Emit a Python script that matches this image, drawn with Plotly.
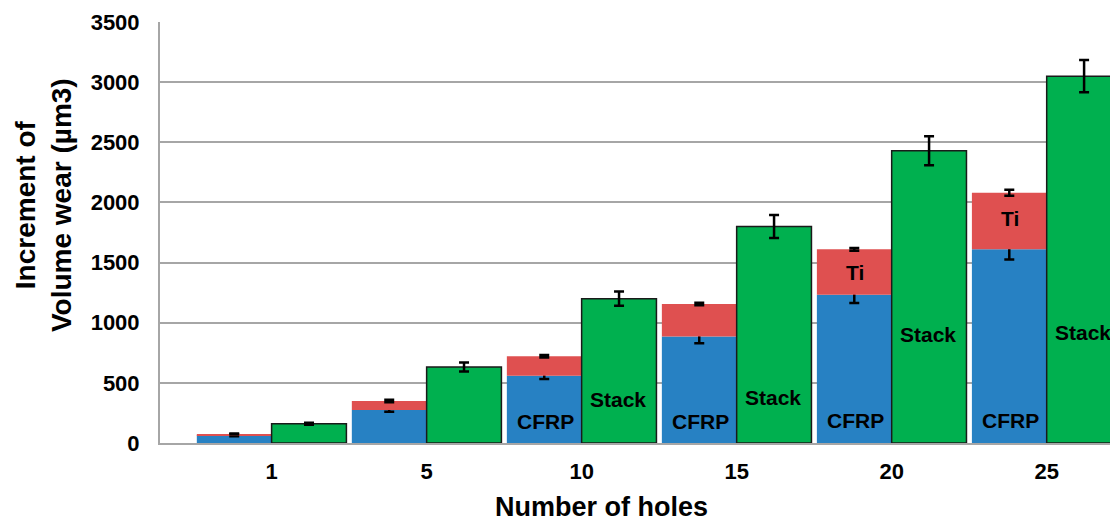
import plotly.graph_objects as go

holes = ["1", "5", "10", "15", "20", "25"]
cfrp = [65, 274, 560, 885, 1233, 1610]
cfrp_err = [8, 15, 27, 55, 70, 85]
ti = [10, 75, 161, 270, 377, 471]
ti_err = [5, 10, 10, 10, 12, 25]
stack = [160, 632, 1200, 1800, 2430, 3050]
stack_err = [8, 37, 60, 95, 120, 135]

# label spots inside the bars (value axis)
cfrp_lbl_y = [None, None, 180, 180, 190, 190]
ti_lbl_y = [None, None, None, None, 1420, 1870]
stack_lbl_y = [None, None, 360, 380, 900, 915]

blue = "#2781C3"
red = "#DF5050"
green = "#00B04F"
font = "Liberation Sans, Arial, sans-serif"

fig = go.Figure()
fig.add_trace(go.Bar(x=holes, y=cfrp, name="CFRP", offsetgroup="a",
                     marker=dict(color=blue, line=dict(width=0)),
                     error_y=dict(type="data", array=cfrp_err, color="black",
                                  thickness=2.5, width=5)))
fig.add_trace(go.Bar(x=holes, y=ti, base=cfrp, name="Ti", offsetgroup="a",
                     marker=dict(color=red, line=dict(width=0)),
                     error_y=dict(type="data", array=ti_err, color="black",
                                  thickness=2.5, width=5)))
fig.add_trace(go.Bar(x=holes, y=stack, name="Stack", offsetgroup="b",
                     marker=dict(color=green, line=dict(color="#1a1a1a", width=1.5)),
                     error_y=dict(type="data", array=stack_err, color="black",
                                  thickness=2.5, width=5)))

# the page has an 8px body margin, so the figure sits at (8, 8)
OFF = 8
W, H = 1118 - OFF, 525 - OFF
L, T, B = 160 - OFF, 22 - OFF, 82
pw, ph = W - L, H - T - B


def px(xp, yp):
    # page pixel -> paper coords
    return (xp - OFF - L) / pw, (H - B - (yp - OFF)) / ph


lbl_font = dict(size=21, color="black", family=font)
anns = []
for i, h in enumerate(holes):
    if cfrp_lbl_y[i] is not None:
        anns.append(dict(x=i, y=cfrp_lbl_y[i], text="<b>CFRP</b>", xshift=-36,
                         showarrow=False, font=lbl_font))
    if ti_lbl_y[i] is not None:
        anns.append(dict(x=i, y=ti_lbl_y[i], text="<b>Ti</b>", xshift=-37,
                         showarrow=False, font=lbl_font))
    if stack_lbl_y[i] is not None:
        anns.append(dict(x=i, y=stack_lbl_y[i], text="<b>Stack</b>", xshift=36,
                         showarrow=False, font=lbl_font))

tx, ty = px(601, 507)
anns.append(dict(x=tx, y=ty, xref="paper", yref="paper", xanchor="center", yanchor="middle",
                 text="<b>Number of holes</b>",
                 showarrow=False, font=dict(size=27, color="black", family=font)))
yx, yy = px(43, 205)
anns.append(dict(x=yx, y=yy, xref="paper", yref="paper", xanchor="center", yanchor="middle",
                 text="<b>Increment of<br>Volume wear (µm3)</b>", showarrow=False,
                 textangle=-90, font=dict(size=28, color="black", family=font)))

fig.update_layout(
    width=W, height=H,
    margin=dict(l=L, r=0, t=T, b=B),
    barmode="group", bargap=0.035, bargroupgap=0,
    plot_bgcolor="white", paper_bgcolor="white",
    showlegend=False,
    font=dict(family=font, color="black"),
    annotations=anns,
)
fig.update_xaxes(type="category", range=[-0.72, 5.46], showline=True, linecolor="#A6A6A6",
                 linewidth=2, ticks="", ticklabelstandoff=8, tickfont=dict(size=22, family=font),
                 tickprefix="<b>", ticksuffix="</b>")
fig.update_yaxes(range=[0, 3500], dtick=500, showline=True, linecolor="#A6A6A6", linewidth=2,
                 showgrid=True, gridcolor="#A6A6A6", gridwidth=1.5, zeroline=False,
                 ticks="", ticklabelstandoff=14,
                 tickfont=dict(size=22, family=font), tickprefix="<b>", ticksuffix="</b>")

fig.write_html("out.html")
